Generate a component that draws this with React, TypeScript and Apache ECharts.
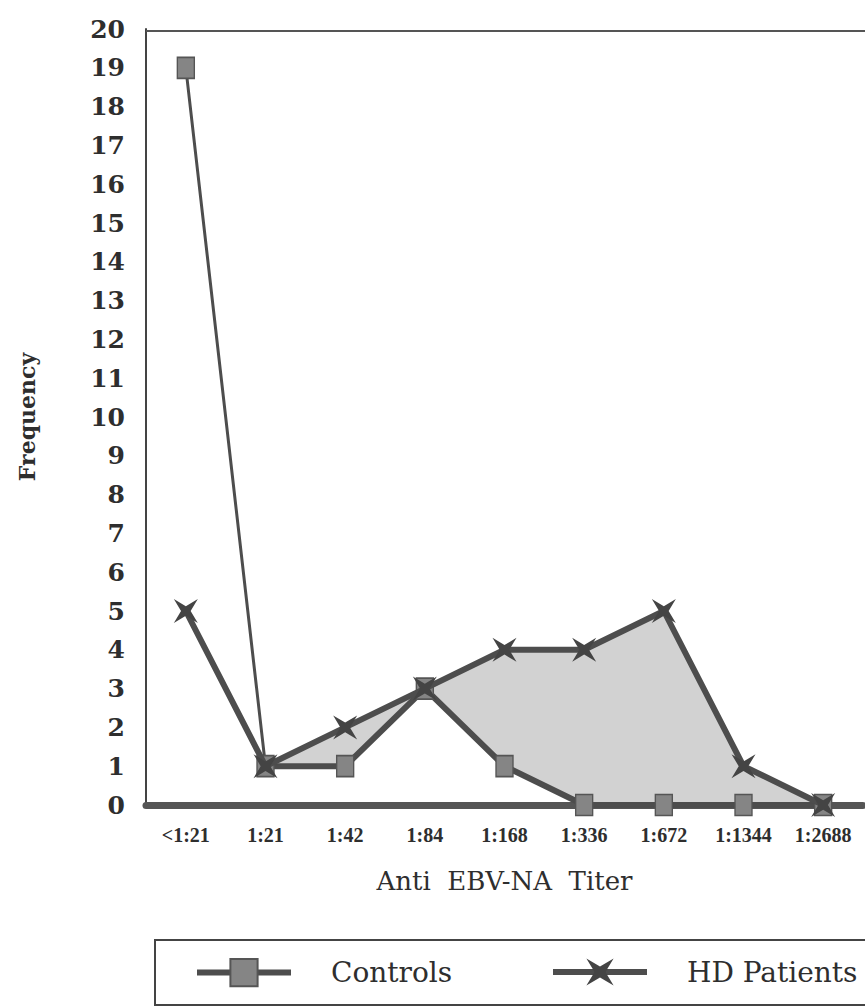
import React, { useEffect, useRef } from "react";
import * as echarts from "echarts";

const categories = ["<1:21", "1:21", "1:42", "1:84", "1:168", "1:336", "1:672", "1:1344", "1:2688"];
const controls = [19, 1, 1, 3, 1, 0, 0, 0, 0];
const hdPatients = [5, 1, 2, 3, 4, 4, 5, 1, 0];
const yTicks = { min: 0, max: 20, interval: 1 };

const FONT = "DejaVu Serif";
const INK = "#2e2e2e";
const LINE = "#4d4d4d";
const HD_SYMBOL = "path://M0,0 L10,6 L20,0 L14,10 L20,20 L10,14 L0,20 L6,10 Z";

export default function App() {
  const ref = useRef<HTMLDivElement>(null);
  useEffect(() => {
    if (!ref.current) return;
    const chart = echarts.init(ref.current, undefined, { renderer: "svg" });
    // shaded region between HD Patients (upper) and Controls (lower), from 1:21 onwards
    const base = controls.map((v, i) => (i === 0 ? "-" : v));
    const diff = hdPatients.map((v, i) => (i === 0 ? "-" : v - controls[i]));
    const controlsThick = controls.map((v, i) => (i === 0 ? "-" : v));
    const legendCommon = {
      top: 953,
      itemWidth: 94,
      itemHeight: 34,
      lineStyle: { width: 6 },
      textStyle: { fontFamily: FONT, fontSize: 28, color: INK, padding: [0, 0, 0, 35] },
      selectedMode: false,
    };
    chart.setOption({
      animation: false,
      backgroundColor: "#ffffff",
      grid: { left: 146, right: 2, top: 29, bottom: 203, containLabel: false },
      xAxis: {
        type: "category",
        data: categories,
        boundaryGap: true,
        axisLine: { show: true, lineStyle: { color: "#555", width: 7 } },
        axisTick: { show: false },
        axisLabel: { fontFamily: "Liberation Serif", fontWeight: "bold", fontSize: 20, color: INK, margin: 20, interval: 0 },
        name: "Anti  EBV-NA  Titer",
        nameLocation: "middle",
        nameGap: 63,
        nameTextStyle: { fontFamily: FONT, fontSize: 26, color: INK },
        splitLine: { show: false },
      },
      yAxis: {
        type: "value",
        min: yTicks.min,
        max: yTicks.max,
        interval: yTicks.interval,
        axisLine: { show: true, lineStyle: { color: "#444", width: 2 } },
        axisTick: { show: false },
        splitLine: { show: false },
        axisLabel: { fontFamily: FONT, fontWeight: "bold", fontSize: 25, color: INK, margin: 21 },
        name: "Frequency",
        nameLocation: "middle",
        nameRotate: 90,
        nameGap: 108,
        nameTextStyle: { fontFamily: FONT, fontSize: 22, fontWeight: "bold", color: INK },
      },
      legend: [
        { ...legendCommon, data: ["Controls"], left: 189 },
        { ...legendCommon, data: ["HD Patients"], left: 545 },
      ],
      graphic: [
        { type: "line", shape: { x1: 146, y1: 31, x2: 865, y2: 31 }, style: { stroke: "#555", lineWidth: 2 }, z: 10 },
        { type: "rect", shape: { x: 155, y: 940, width: 730, height: 65 }, style: { fill: "none", stroke: "#444", lineWidth: 2 }, z: 0 },
      ],
      series: [
        {
          name: "_base",
          type: "line",
          stack: "gap",
          data: base,
          symbol: "none",
          lineStyle: { opacity: 0 },
          silent: true,
          z: 1,
        },
        {
          name: "_gap",
          type: "line",
          stack: "gap",
          data: diff,
          symbol: "none",
          lineStyle: { opacity: 0 },
          areaStyle: { color: "#d2d2d2", opacity: 1 },
          silent: true,
          z: 1,
        },
        {
          name: "_controlsThick",
          type: "line",
          data: controlsThick,
          symbol: "none",
          lineStyle: { color: LINE, width: 6 },
          z: 2,
        },
        {
          name: "Controls",
          type: "line",
          data: controls,
          symbol: "rect",
          symbolSize: [17, 21],
          lineStyle: { color: LINE, width: 3 },
          itemStyle: { color: "#858585", borderColor: "#555", borderWidth: 1.5 },
          z: 3,
        },
        {
          name: "HD Patients",
          type: "line",
          data: hdPatients,
          symbol: HD_SYMBOL,
          symbolSize: 24,
          lineStyle: { color: LINE, width: 6 },
          itemStyle: { color: "#444" },
          z: 4,
        },
      ],
    });
    return () => chart.dispose();
  }, []);
  return <div ref={ref} style={{ position: "absolute", left: 0, top: 0, width: 865, height: 1008 }} />;
}
